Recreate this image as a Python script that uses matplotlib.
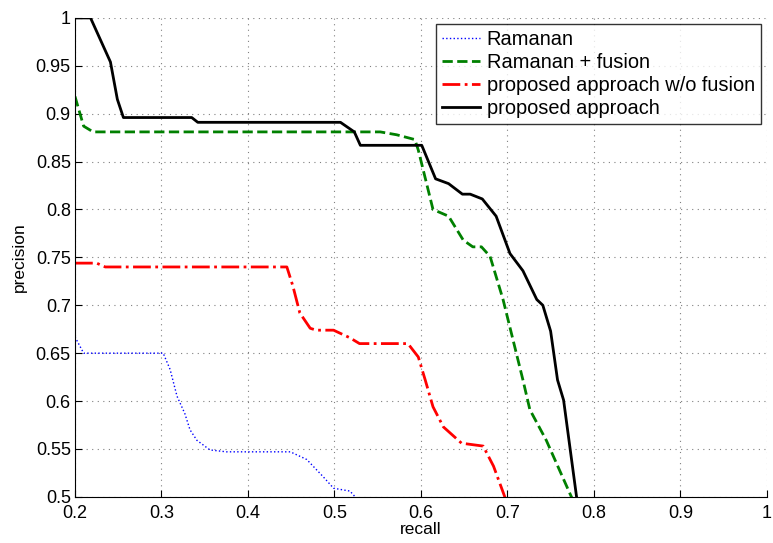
import numpy as np
import matplotlib
matplotlib.use('Agg')
import matplotlib.pyplot as plt

plt.rcParams['font.family'] = ['Liberation Sans', 'DejaVu Sans']

# Ramanan
r_x = [0.2, 0.21, 0.302, 0.310, 0.318, 0.327, 0.333, 0.341, 0.356, 0.375, 0.449, 0.468, 0.487, 0.499, 0.518, 0.524, 0.53]
r_y = [0.667, 0.650, 0.650, 0.633, 0.605, 0.587, 0.570, 0.559, 0.549, 0.547, 0.547, 0.539, 0.521, 0.509, 0.506, 0.500, 0.49]

# Ramanan + fusion
rf_x = [0.2, 0.21, 0.221, 0.553, 0.572, 0.593, 0.597, 0.614, 0.632, 0.649, 0.660, 0.670, 0.680, 0.695, 0.718, 0.726, 0.745, 0.774, 0.78]
rf_y = [0.918, 0.887, 0.881, 0.881, 0.878, 0.873, 0.862, 0.800, 0.793, 0.768, 0.761, 0.761, 0.751, 0.706, 0.622, 0.591, 0.559, 0.500, 0.49]

# proposed approach w/o fusion
pn_x = [0.2, 0.225, 0.235, 0.445, 0.452, 0.460, 0.472, 0.479, 0.499, 0.518, 0.529, 0.585, 0.597, 0.605, 0.614, 0.626, 0.647, 0.672, 0.684, 0.697, 0.70]
pn_y = [0.744, 0.744, 0.740, 0.740, 0.720, 0.692, 0.676, 0.674, 0.674, 0.666, 0.660, 0.660, 0.646, 0.622, 0.594, 0.573, 0.556, 0.553, 0.532, 0.500, 0.49]

# proposed approach
p_x = [0.2, 0.218, 0.241, 0.249, 0.256, 0.335, 0.342, 0.507, 0.523, 0.530, 0.601, 0.617, 0.632, 0.648, 0.657, 0.671, 0.687, 0.703, 0.718, 0.734, 0.741, 0.750, 0.758, 0.765, 0.780, 0.782]
p_y = [1.0, 1.0, 0.954, 0.915, 0.896, 0.896, 0.891, 0.891, 0.881, 0.867, 0.867, 0.832, 0.827, 0.816, 0.816, 0.811, 0.793, 0.754, 0.736, 0.706, 0.700, 0.673, 0.622, 0.601, 0.500, 0.49]

fig = plt.figure(figsize=(7.73, 5.43), dpi=100)
ax = fig.add_axes([0.097, 0.085, 0.895, 0.882])

ax.plot(r_x, r_y, color='blue', linestyle=':', linewidth=1.0, label='Ramanan')
ax.plot(rf_x, rf_y, color='green', linestyle='--', linewidth=2.0, label='Ramanan + fusion')
ax.plot(pn_x, pn_y, color='red', linestyle='-.', linewidth=2.0, label='proposed approach w/o fusion')
ax.plot(p_x, p_y, color='black', linestyle='-', linewidth=2.0, label='proposed approach')

ax.set_xlim(0.2, 1.0)
ax.set_ylim(0.5, 1.0)
ax.set_xticks(np.arange(0.2, 1.01, 0.1))
ax.set_xticklabels(['0.2', '0.3', '0.4', '0.5', '0.6', '0.7', '0.8', '0.9', '1'])
ax.set_yticks(np.arange(0.5, 1.001, 0.05))
ax.set_yticklabels(['0.5', '0.55', '0.6', '0.65', '0.7', '0.75', '0.8', '0.85', '0.9', '0.95', '1'])
ax.tick_params(direction='in', labelsize=13, length=5)
ax.tick_params(axis='x', pad=6)
ax.tick_params(axis='y', pad=3)
ax.grid(True, linestyle=(0, (1, 4)), color='gray', linewidth=0.8)
ax.spines['top'].set_visible(False)
ax.spines['right'].set_visible(False)
ax.set_xlabel('recall', fontsize=12.5, labelpad=0)
ax.set_ylabel('precision', fontsize=12.5, labelpad=6)

leg = ax.legend(loc='upper right', fontsize=14.4, frameon=True, fancybox=False,
                edgecolor='black', borderaxespad=0.3, handlelength=1.9,
                labelspacing=0.2, borderpad=0.3, handletextpad=0.35)
leg.get_frame().set_linewidth(1.0)

fig.savefig('out.png', dpi=100)
